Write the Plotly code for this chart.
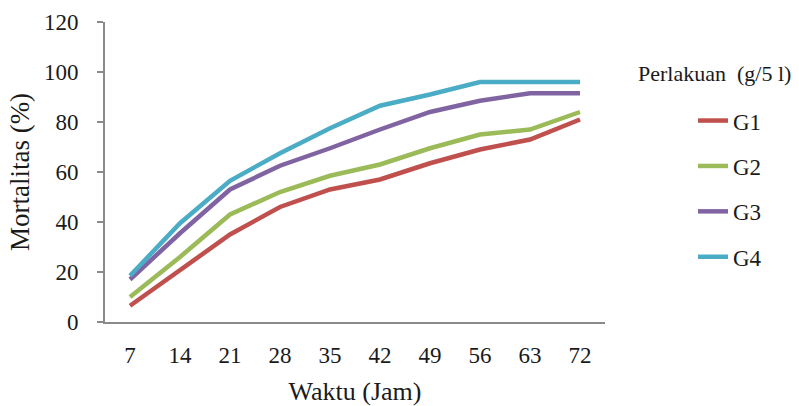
import plotly.graph_objects as go

hours = ["7", "14", "21", "28", "35", "42", "49", "56", "63", "72"]
g1 = [6.5, 20.5, 35, 46, 53, 57, 63.5, 69, 73, 81]
g2 = [10, 26, 43, 52, 58.5, 63, 69.5, 75, 77, 84]
g3 = [17, 35.5, 53, 62.5, 69.5, 77, 84, 88.5, 91.5, 91.5]
g4 = [18.5, 39.5, 56.5, 67.5, 77.5, 86.5, 91, 96, 96, 96]
names = ["G1", "G2", "G3", "G4"]
colors = ["#C0504D", "#9BBB59", "#8064A2", "#4BACC6"]
y_ticks = [0, 20, 40, 60, 80, 100, 120]

FONT = "Liberation Serif"
TXT = "#1a1a1a"

fig = go.Figure()
for i, (nm, ys, c) in enumerate(zip(names, [g1, g2, g3, g4], colors)):
    fig.add_trace(go.Scatter(x=hours, y=ys, name=nm, mode="lines",
                             line=dict(color=c, width=4.5),
                             legendgroup=nm))

fig.update_layout(
    width=799, height=406,
    margin=dict(l=105, r=194, t=22, b=84),
    paper_bgcolor="white", plot_bgcolor="white",
    font=dict(family=FONT, size=22, color=TXT),
    showlegend=True,
    legend=dict(x=1.176, y=0.743, xanchor="left", yanchor="top",
                font=dict(family=FONT, size=23, color=TXT),
                tracegroupgap=12.5, itemwidth=30, bgcolor="rgba(0,0,0,0)"),
    annotations=[dict(text="Perlakuan  (g/5 l)", x=1.062, y=0.83,
                      xref="paper", yref="paper", xanchor="left", yanchor="middle",
                      showarrow=False, font=dict(family=FONT, size=22, color=TXT))],
)
fig.update_xaxes(type="category", range=[-0.5, 9.5], showline=True, linecolor="#8a8a8a",
                 linewidth=2, ticks="", showgrid=False, tickfont=dict(family=FONT, size=23),
                 ticklabelstandoff=11, automargin=False,
                 title=dict(text="Waktu (Jam)", font=dict(family=FONT, size=26), standoff=15))
fig.update_yaxes(range=[0, 120], tickvals=y_ticks, showline=True, linecolor="#8a8a8a",
                 linewidth=2, ticks="outside", ticklen=6, tickcolor="#8a8a8a", tickwidth=2,
                 showgrid=False, zeroline=False, tickfont=dict(family=FONT, size=23),
                 ticklabelstandoff=14, automargin=False,
                 title=dict(text="Mortalitas (%)", font=dict(family=FONT, size=27), standoff=6))

fig.write_html("out.html")
